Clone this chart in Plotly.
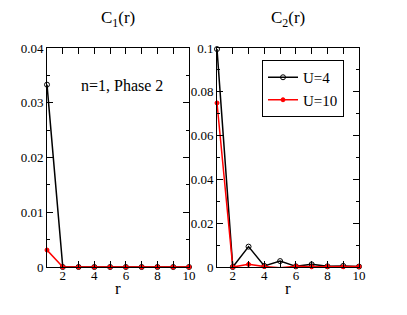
import plotly.graph_objects as go

r = [1, 2, 3, 4, 5, 6, 7, 8, 9, 10]
c1_u4 = [0.0333, 0.0, 0.0, 0.0, 0.0, 0.0, 0.0, 0.0, 0.0, 0.0]
c1_u10 = [0.0031, 0.0, 0.0, 0.0, 0.0, 0.0, 0.0, 0.0, 0.0, 0.0]
c2_u4 = [0.0995, 0.0, 0.0093, 0.0005, 0.0027, 0.0003, 0.0012, 0.0003, 0.0005, 0.0002]
c2_u10 = [0.0749, 0.0, 0.0012, 0.0002, -0.0003, 0.0003, 0.0001, 0.0002, 0.0001, 0.0002]

FONT = "Liberation Serif, Times New Roman, Times, serif"
W, H = 407, 315
OFF = 8  # page body margin


def px(x):
    return (x - OFF) / W


def py(y):
    return 1 - (y - OFF) / H


fig = go.Figure()


def add(x, y, xa, ya, color, name, sym, size, show):
    fig.add_trace(go.Scatter(
        x=x, y=y, xaxis=xa, yaxis=ya, mode="lines+markers", name=name,
        line=dict(color=color, width=1.5),
        marker=dict(symbol=sym, size=size, color=color, line=dict(color=color, width=1)),
        showlegend=show, cliponaxis=False))


add(r, c1_u4, "x", "y", "black", "U=4", "circle-open", 5, False)
add(r, c1_u10, "x", "y", "red", "U=10", "circle", 4, False)
add(r, c2_u4, "x2", "y2", "black", "U=4", "circle-open", 5, True)
add(r, c2_u10, "x2", "y2", "red", "U=10", "circle", 4, True)

ax_common = dict(showline=True, linecolor="black", linewidth=1, mirror="allticks",
                 ticks="inside", ticklen=6, tickcolor="black", showgrid=False, zeroline=False,
                 automargin=False,
                 tickfont=dict(family=FONT, size=13, color="black"))

xtick = dict(range=[1, 10], tickvals=[2, 4, 6, 8, 10], ticklabelstandoff=-4,
             minor=dict(ticks="inside", dtick=1, ticklen=6, tickcolor="black"))

fig.update_layout(
    width=W, height=H, autosize=False,
    margin=dict(l=0, r=0, t=0, b=0, pad=0, autoexpand=False),
    paper_bgcolor="white", plot_bgcolor="white",
    font=dict(family=FONT, color="black"),
    xaxis=dict(domain=[px(47), px(189)], anchor="y", **xtick, **ax_common),
    yaxis=dict(domain=[py(267), py(48)], range=[0, 0.04], tickvals=[0, 0.01, 0.02, 0.03, 0.04],
               ticktext=["0", "0.01", "0.02", "0.03", "0.04"],
               minor=dict(ticks="inside", dtick=0.005, ticklen=3, tickcolor="black"),
               anchor="x", **ax_common),
    xaxis2=dict(domain=[px(217), px(359)], anchor="y2", **xtick, **ax_common),
    yaxis2=dict(domain=[py(267), py(48)], range=[0, 0.1], tickvals=[0, 0.02, 0.04, 0.06, 0.08, 0.1],
                ticktext=["0", "0.02", "0.04", "0.06", "0.08", "0.1"],
                minor=dict(ticks="inside", dtick=0.01, ticklen=3, tickcolor="black"),
                anchor="x2", **ax_common),
    legend=dict(x=px(262), y=py(60), xanchor="left", yanchor="top",
                bordercolor="black", borderwidth=1, bgcolor="white",
                font=dict(family=FONT, size=15, color="black"),
                itemwidth=30, tracegroupgap=0),
    showlegend=True,
)

for text, x, y, size in [("C<sub>1</sub>(r)", 118, 19, 17),
                         ("C<sub>2</sub>(r)", 288, 19, 17),
                         ("n=1, Phase 2", 122, 85, 16),
                         ("r", 118, 288, 17),
                         ("r", 288, 288, 17)]:
    fig.add_annotation(text=text, x=px(x), y=py(y), xref="paper", yref="paper",
                       xanchor="center", yanchor="middle",
                       showarrow=False, font=dict(family=FONT, size=size, color="black"))

fig.write_html("out.html")
